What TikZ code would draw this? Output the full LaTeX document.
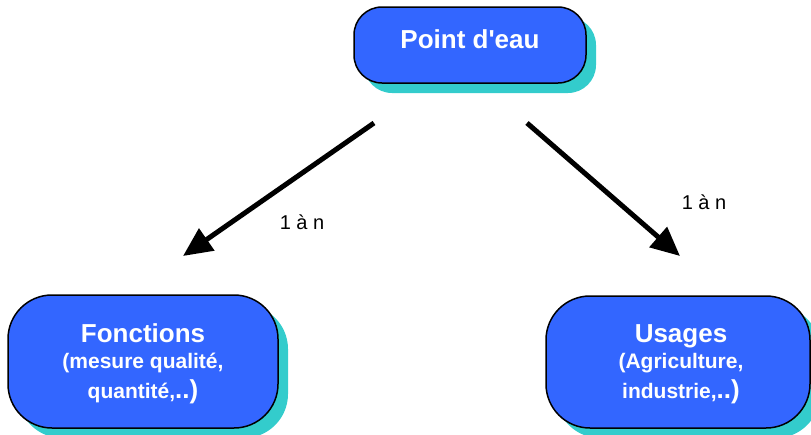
\documentclass[tikz,border=0pt]{standalone}
\usepackage{fontspec}
\setmainfont{Liberation Sans}
\usetikzlibrary{shadows,arrows.meta}
\definecolor{boxblue}{HTML}{3366FF}
\definecolor{shadowteal}{HTML}{33CCCC}
\tikzset{
  entity/.style={draw=black, line width=1.5pt, fill=boxblue, rectangle,
    drop shadow={fill=shadowteal, opacity=1, shadow xshift=10pt, shadow yshift=-10pt},
    inner sep=0pt},
  title/.style={anchor=base, text=white, font=\fontsize{26}{30}\selectfont\bfseries, inner sep=0pt},
  sub/.style={anchor=base, text=white, font=\fontsize{21}{24}\selectfont\bfseries, inner sep=0pt},
  rel/.style={line width=5pt, -{Triangle[length=29pt,width=26pt]}},
  card/.style={font=\fontsize{20}{24}\selectfont, inner sep=0pt}
}
\newcommand{\bigend}{\fontsize{26}{30}\selectfont}
\begin{document}
\begin{tikzpicture}[x=1pt,y=-1pt]
\useasboundingbox (0,0) rectangle (811,434);
% boxes
\node[entity, rounded corners=28pt, minimum width=232pt, minimum height=76pt] (pe) at (470,45) {};
\node[entity, rounded corners=44pt, minimum width=270pt, minimum height=133pt] (fo) at (143,361.5) {};
\node[entity, rounded corners=44pt, minimum width=264pt, minimum height=132pt] (us) at (678,362) {};
% texts
\node[title] (pet) at (470,48) {Point d\textquotesingle eau};
\node[title] (fot) at (143,342) {Fonctions};
\node[sub] (fo1) at (143,368) {(mesure qualité,};
\node[sub] (fo2) at (143,398) {quantité,{\bigend..)}};
\node[title] (ust) at (681,342) {Usages};
\node[sub] (us1) at (681,368) {(Agriculture,};
\node[sub] (us2) at (681,398) {industrie,{\bigend..)}};
% arrows
\coordinate (l1) at (374,123);
\coordinate (l2) at (183,256);
\coordinate (r1) at (527,123);
\coordinate (r2) at (680,256);
\draw[rel] (l1) -- (l2);
\draw[rel] (r1) -- (r2);
\node[card] (lc) at (302,222) {1 à n};
\node[card] (rc) at (704,202) {1 à n};
\end{tikzpicture}
\end{document}
